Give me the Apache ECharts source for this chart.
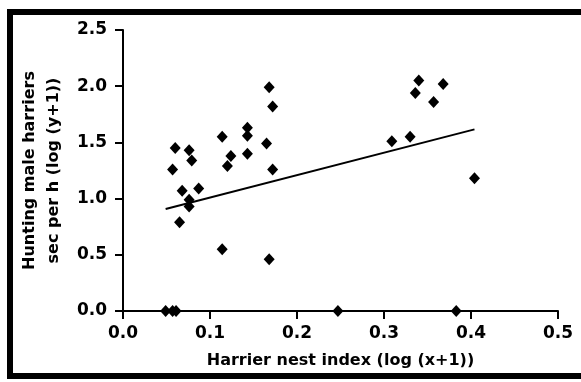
<!DOCTYPE html>
<html>
<head>
<meta charset="utf-8">
<script src="https://cdn.jsdelivr.net/npm/echarts@6/dist/echarts.min.js"></script>
<style>
  html, body { margin: 0; padding: 0; background: #fff; }
  #chart { width: 581px; height: 382px; }
</style>
</head>
<body>
<div id="chart"></div>
<script>
// harrier nest index, log(x+1)
const nestIndex = [
  0.060, 0.076, 0.079, 0.057, 0.114, 0.143, 0.143, 0.165, 0.124, 0.143,
  0.120, 0.172, 0.068, 0.087, 0.076, 0.076, 0.065, 0.168, 0.172, 0.114,
  0.168, 0.049, 0.057, 0.061, 0.247, 0.383, 0.340, 0.368, 0.336, 0.357,
  0.309, 0.330, 0.404
]
// hunting male harriers, sec per h, log(y+1)
const huntingTime = [
  1.45, 1.43, 1.34, 1.26, 1.55, 1.63, 1.56, 1.49, 1.38, 1.40,
  1.29, 1.26, 1.07, 1.09, 0.99, 0.93, 0.79, 1.99, 1.82, 0.55,
  0.46, 0.00, 0.00, 0.00, 0.00, 0.00, 2.05, 2.02, 1.94, 1.86,
  1.51, 1.55, 1.18
]
// fitted regression line end points
const fitX = [0.049, 0.404]
const fitY = [0.907, 1.616]

const xTicks = ['0.0', '0.1', '0.2', '0.3', '0.4', '0.5']
const yTicks = ['0.0', '0.5', '1.0', '1.5', '2.0', '2.5']

const chart = echarts.init(document.getElementById('chart'))

const font = 'DejaVu Sans'

const points = nestIndex.map((x, i) => [x, huntingTime[i]])
const fitLine = fitX.map((x, i) => [x, fitY[i]])

const axisLine = { show: true, lineStyle: { color: '#000', width: 2 } }
const axisTick = { show: true, length: 8, lineStyle: { color: '#000', width: 2 } }

chart.setOption({
  backgroundColor: '#fff',
  animation: false,
  grid: { left: 123, right: 23, top: 30, bottom: 71 },
  graphic: [
    {
      type: 'rect',
      shape: { x: 10, y: 12, width: 620, height: 364 },
      style: { fill: 'none', stroke: '#000', lineWidth: 6 },
      silent: true
    }
  ],
  xAxis: {
    type: 'value',
    min: 0,
    max: 0.5,
    interval: 0.1,
    name: 'Harrier nest index (log (x+1))',
    nameLocation: 'middle',
    nameGap: 42,
    nameTextStyle: { fontFamily: font, fontSize: 16, fontWeight: 'bold', color: '#000' },
    axisLine: axisLine,
    axisTick: axisTick,
    splitLine: { show: false },
    axisLabel: {
      margin: 14,
      fontFamily: font, fontSize: 17, fontWeight: 'bold', color: '#000',
      formatter: (v) => xTicks[Math.round(v * 10)]
    }
  },
  yAxis: {
    type: 'value',
    min: 0,
    max: 2.5,
    interval: 0.5,
    name: 'Hunting male harriers\nsec per h (log (y+1))',
    nameLocation: 'middle',
    nameGap: 56,
    nameRotate: 90,
    nameTextStyle: { fontFamily: font, fontSize: 16, fontWeight: 'bold', color: '#000', lineHeight: 24 },
    axisLine: axisLine,
    axisTick: axisTick,
    splitLine: { show: false },
    axisLabel: {
      margin: 16,
      fontFamily: font, fontSize: 17, fontWeight: 'bold', color: '#000',
      formatter: (v) => yTicks[Math.round(v * 2)]
    }
  },
  series: [
    {
      type: 'line',
      data: fitLine,
      symbol: 'none',
      lineStyle: { color: '#000', width: 2 },
      z: 3
    },
    {
      type: 'scatter',
      data: points,
      symbol: 'diamond',
      symbolSize: [11, 12],
      itemStyle: { color: '#000', opacity: 1 },
      z: 4
    }
  ]
})
</script>
</body>
</html>
